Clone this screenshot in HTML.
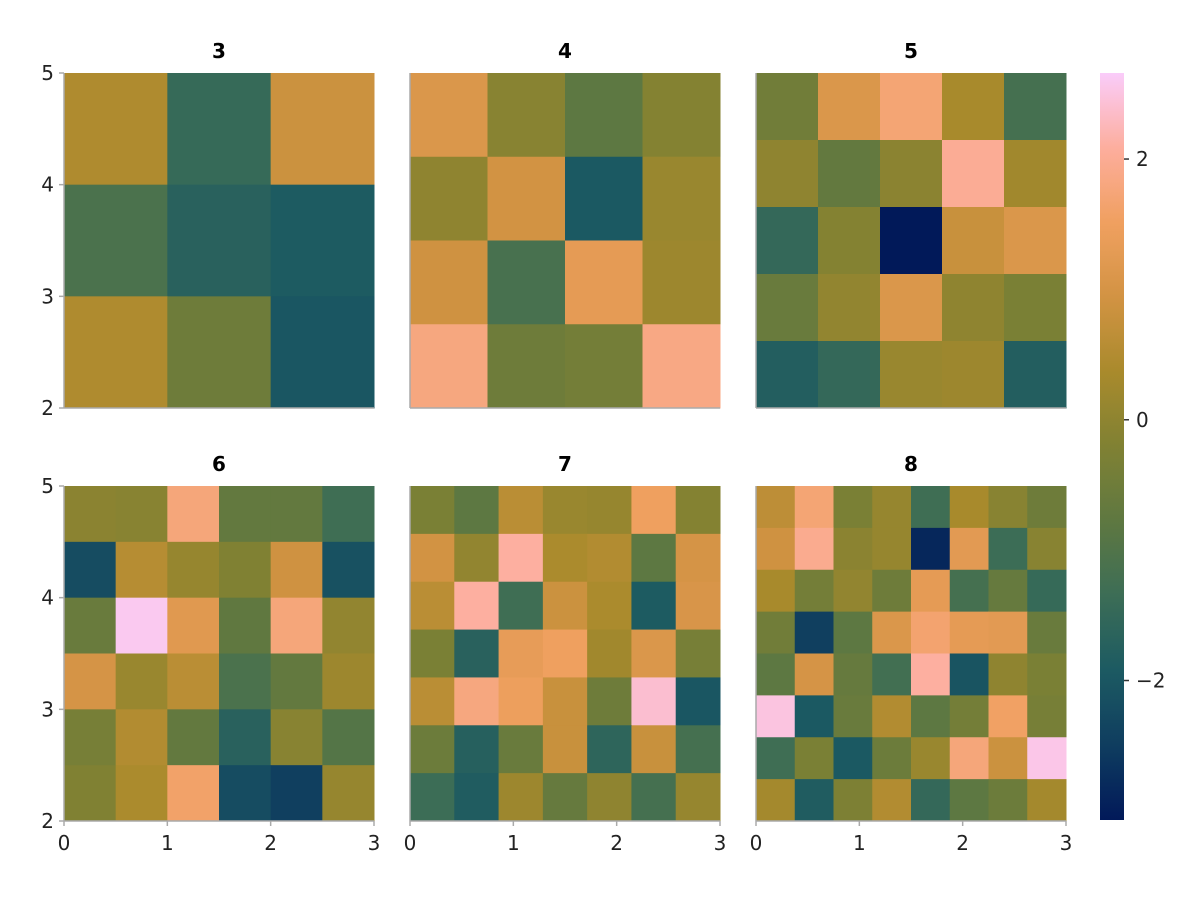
<!DOCTYPE html>
<html><head><meta charset="utf-8"><style>
body{margin:0;background:#fff}
svg{font-family:"DejaVu Sans","Liberation Sans",sans-serif}
</style></head><body>
<svg id="chart" width="1200" height="900" viewBox="0 0 1200 900" xmlns="http://www.w3.org/2000/svg"></svg>
<script>
const panelTitles = ["3","4","5","6","7","8"];
const data3 = [[0.45,-1.45,0.85],[-1.1,-1.7,-1.9],[0.45,-0.5,-2.0]];
const data4 = [[1.1,-0.1,-0.8,-0.15],[0.0,0.95,-1.95,0.15],[0.9,-1.15,1.3,0.2],[1.8,-0.5,-0.4,1.85]];
const data5 = [[-0.45,1.1,1.7,0.35,-1.2],[0.0,-0.7,-0.05,2.0,0.25],[-1.5,-0.15,-3.07,0.8,1.1],[-0.6,0.05,1.1,0.0,-0.3],[-1.8,-1.5,0.15,0.2,-1.8]];
const data6 = [[-0.05,-0.1,1.75,-0.7,-0.7,-1.3],[-2.2,0.55,0.1,-0.2,0.9,-2.1],[-0.6,2.6,1.2,-0.75,1.75,0.05],[1.0,0.15,0.6,-1.1,-0.7,0.2],[-0.35,0.5,-0.7,-1.7,-0.1,-0.95],[-0.2,0.4,1.6,-2.2,-2.45,0.1]];
const data7 = [[-0.3,-0.8,0.6,0.15,0.1,1.5,-0.15],[0.95,0.05,2.1,0.4,0.5,-0.8,1.0],[0.6,2.1,-1.3,0.85,0.4,-1.9,1.05],[-0.3,-1.7,1.35,1.5,0.25,1.1,-0.35],[0.6,1.8,1.45,0.8,-0.5,2.4,-2.0],[-0.55,-1.75,-0.6,0.8,-1.6,0.8,-1.2],[-1.35,-1.85,0.2,-0.65,0.0,-1.2,0.1]];
const data8 = [[0.65,1.7,-0.3,0.1,-1.3,0.35,-0.1,-0.5],[0.9,1.95,-0.05,0.1,-2.85,1.25,-1.35,-0.1],[0.35,-0.4,0.05,-0.5,1.3,-1.2,-0.65,-1.45],[-0.45,-2.45,-0.8,1.1,1.65,1.3,1.25,-0.6],[-0.8,1.0,-0.65,-1.25,2.1,-2.05,0.0,-0.3],[2.5,-1.95,-0.6,0.5,-0.8,-0.4,1.55,-0.35],[-1.3,-0.3,-1.95,-0.55,0.15,1.75,0.85,2.55],[0.3,-1.85,-0.25,0.5,-1.5,-0.8,-0.55,0.3]];
const xTicks = [0,1,2,3];
const yTicks = [2,3,4,5];
const cbTicks = [2,0,-2];
const cbTickLabels = ["2","0","−2"];
const vmin = -3.07, vmax = 2.66;

const stops=["#011959","#0f3d5f","#1c5a62","#3c6d56","#5e7841","#808133","#a98a2c","#d29343","#f0a060","#fdae9e","#faccfa"];
function hex(c){return [1,3,5].map(i=>parseInt(c.substr(i,2),16));}
function cmap(v){let t=Math.max(0,Math.min(1,(v-vmin)/(vmax-vmin)))*(stops.length-1);
 let i=Math.min(Math.floor(t),stops.length-2),f=t-i,a=hex(stops[i]),b=hex(stops[i+1]);
 return "rgb("+a.map((x,k)=>Math.round(x+(b[k]-x)*f)).join(",")+")";}

const svg=document.getElementById("chart");const NS="http://www.w3.org/2000/svg";
function el(tag,attrs,parent){const e=document.createElementNS(NS,tag);for(const k in attrs)e.setAttribute(k,attrs[k]);(parent||svg).appendChild(e);return e;}
const datas=[data3,data4,data5,data6,data7,data8];
const colX=[64,410,756],rowY=[73,486],W=310,H=335;
datas.forEach((d,p)=>{
 const col=p%3,row=Math.floor(p/3),x0=colX[col],y0=rowY[row];
 const g=el("g",{});
 
 
 const sx=v=>x0+(v-0)/3*W, sy=v=>y0+H-(v-2)/3*H;
 const n=d.length;
 d.forEach((r,ri)=>r.forEach((v,ci)=>{
  const xa=sx(ci*3/n),xb=sx((ci+1)*3/n),ya=sy(5-ri*3/n),yb=sy(5-(ri+1)*3/n);
  const c=el("rect",{x:xa,y:ya,width:xb-xa+0.5,height:yb-ya+0.5,fill:cmap(v)},g);
  
  
 }));
 const t=el("text",{x:x0+W/2,y:y0-15,"text-anchor":"middle","font-size":20,"font-weight":"bold"},g);
 t.textContent=panelTitles[p];
 
 
 el("line",{x1:x0,x2:x0+W,y1:y0+H,y2:y0+H,stroke:"#aaa","stroke-width":1.5},g);
 el("line",{x1:x0,x2:x0,y1:y0,y2:y0+H,stroke:"#aaa","stroke-width":1.5},g);
 if(col===0) yTicks.forEach(v=>{el("line",{x1:x0-5,x2:x0,y1:sy(v),y2:sy(v),stroke:"#aaa","stroke-width":1.5},g);
  const l=el("text",{x:x0-10,y:sy(v)+7,"text-anchor":"end","font-size":20,fill:"#222"},g);l.textContent=v;
  });
 if(row===1) xTicks.forEach(v=>{el("line",{x1:sx(v),x2:sx(v),y1:y0+H,y2:y0+H+5,stroke:"#aaa","stroke-width":1.5},g);
  const l=el("text",{x:sx(v),y:y0+H+29,"text-anchor":"middle","font-size":20,fill:"#222"},g);l.textContent=v;
  });
});
// colorbar
const cb=el("g",{});


const cbx=1100,cby=73,cbw=24,cbh=747;
const defs=el("defs",{});const lg=el("linearGradient",{id:"cbg",x1:0,y1:1,x2:0,y2:0},defs);
for(let i=0;i<=40;i++){el("stop",{offset:i/40,"stop-color":cmap(vmin+(vmax-vmin)*i/40)},lg);}
el("rect",{x:cbx,y:cby,width:cbw,height:cbh,fill:"url(#cbg)"},cb);
const cy=v=>cby+cbh-(v-vmin)/(vmax-vmin)*cbh;
cbTicks.forEach((v,i)=>{el("line",{x1:cbx+cbw,x2:cbx+cbw+5,y1:cy(v),y2:cy(v),stroke:"#333","stroke-width":1.5},cb);
 const l=el("text",{x:cbx+cbw+12,y:cy(v)+7,"font-size":20,fill:"#222"},cb);l.textContent=cbTickLabels[i];
 });
</script>
</body></html>
